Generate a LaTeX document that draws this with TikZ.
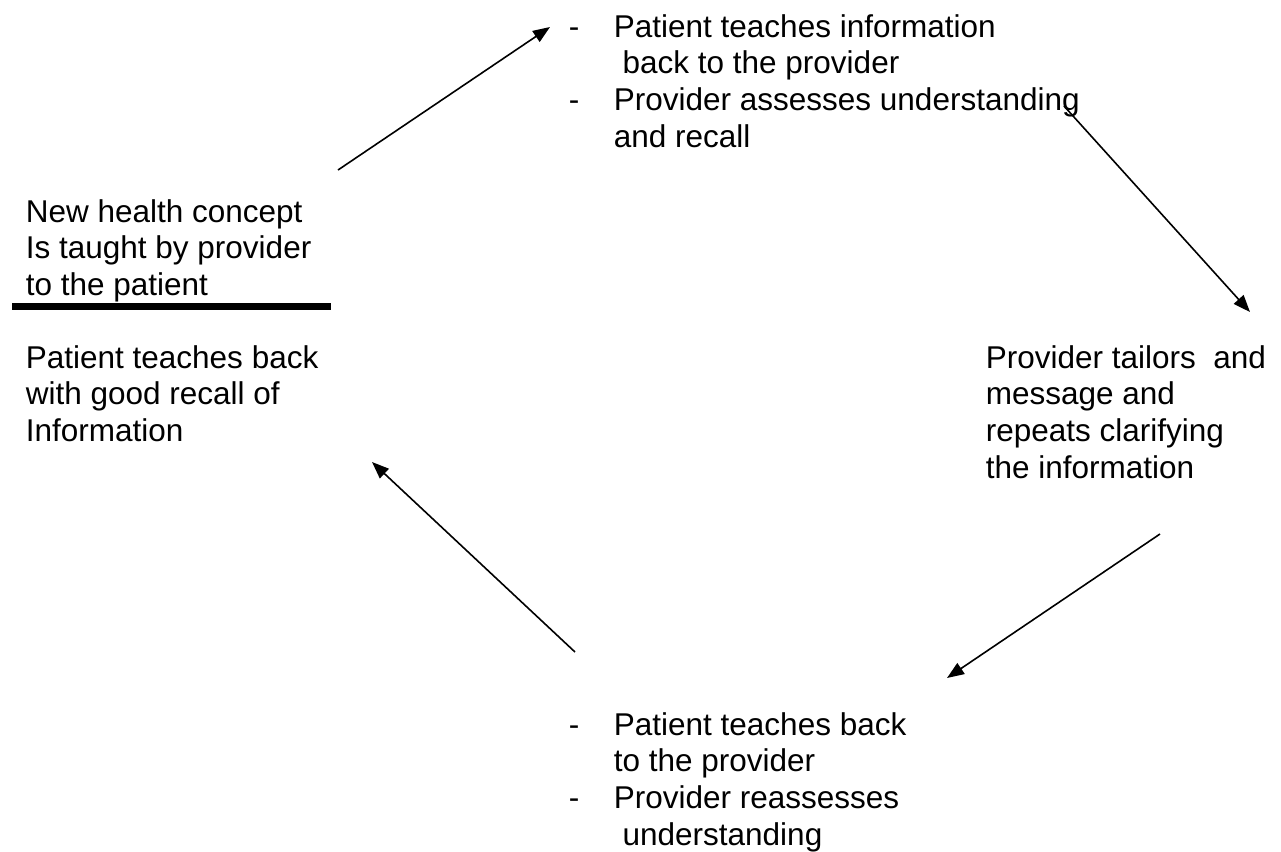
\documentclass[tikz,border=0pt]{standalone}
\usepackage{fontspec}
\setmainfont{Liberation Sans}
\usetikzlibrary{arrows.meta}
\newcommand{\dashitem}{\makebox[22.5pt][l]{-}}
\newcommand{\noitem}{\hspace*{22.5pt}}

\begin{document}
\begin{tikzpicture}
    % 样式: 文字块, 循环箭头, 粗分隔线
    [x=0.5pt,y=-0.5pt,
    TextBlock/.style={anchor=north west, inner sep=0pt, align=left, font=\fontsize{15.75pt}{18.35pt}\selectfont},
    CycleArrow/.style={line width=0.8pt, -{Stealth[inset=0pt,length=8.5pt,width=6.5pt]}},
    Divider/.style={line width=3.5pt}]

    % 固定画布大小
    \useasboundingbox (0,0) rectangle (1281,852);

    % 左侧文字块
    \node[TextBlock] (concept) at (25.5,199) {New health concept\\Is taught by provider\\to the patient};
    \node[TextBlock] (recall) at (25.5,345) {Patient teaches back\\with good recall of\\Information};
    % 分隔线
    \draw[Divider] (12,306) -- (331,306);

    % 上方文字块
    \node[TextBlock] (teach) at (568.5,14) {\dashitem Patient teaches information\\
        \noitem\ back to the provider\\
        \dashitem Provider assesses understanding\\
        \noitem and recall};

    % 右侧文字块
    \node[TextBlock] (tailor) at (985.5,345) {Provider tailors~ and\\message and\\repeats clarifying\\the information};

    % 下方文字块
    \node[TextBlock] (reteach) at (568.5,712) {\dashitem Patient teaches back\\
        \noitem to the provider\\
        \dashitem Provider reassesses\\
        \noitem\ understanding};

    % 箭头端点
    \coordinate (s_1) at (338,170);   \coordinate (e_1) at (550,27);
    \coordinate (s_2) at (1064,106);  \coordinate (e_2) at (1250,312);
    \coordinate (s_3) at (1160,534);  \coordinate (e_3) at (947,678);
    \coordinate (s_4) at (575,652);   \coordinate (e_4) at (372,462);

    % 循环箭头
    \foreach \x in {1,...,4}
        \draw[CycleArrow] (s_\x) -- (e_\x);
\end{tikzpicture}
\end{document}
